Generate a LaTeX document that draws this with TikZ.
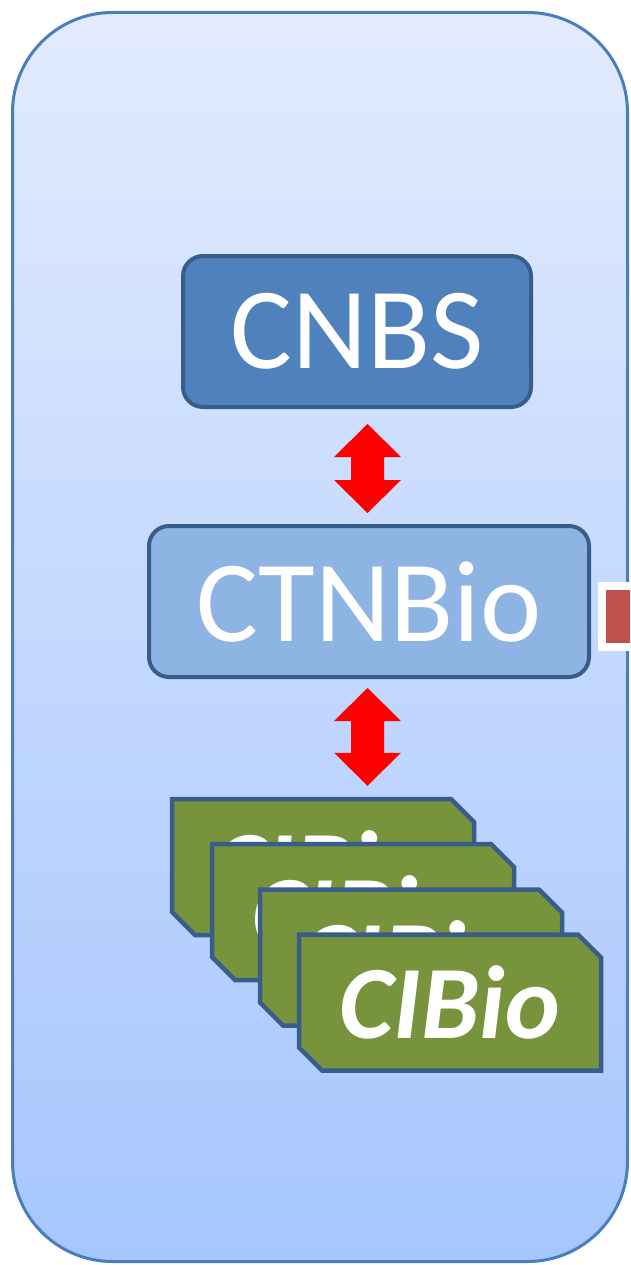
\documentclass[tikz,border=0pt]{standalone}
\usepackage{fontspec}
\setmainfont{Carlito}
\usetikzlibrary{calc,shapes.misc}
\definecolor{panelTop}{RGB}{226,235,254}
\definecolor{panelBottom}{RGB}{166,198,254}
\definecolor{panelLine}{RGB}{74,126,187}
\definecolor{boxLine}{RGB}{56,93,138}
\definecolor{cnbsFill}{RGB}{79,129,189}
\definecolor{ctnFill}{RGB}{142,180,227}
\definecolor{cardFill}{RGB}{119,147,60}
\definecolor{arrowRed}{RGB}{255,0,0}
\definecolor{markRed}{RGB}{192,80,77}
\def\dblarrow(#1)(#2){\fill[arrowRed] (#1) -- ++(33.5,33) -- ++(-17,0) -- ($(#2)+(16.5,-33)$) -- ++(17,0) -- (#2) -- ++(-33.5,-33) -- ++(17,0) -- ($(#1)+(-16.5,33)$) -- ++(-17,0) -- cycle;}
\tikzset{
	council/.style={draw=boxLine, line width=4pt, rounded corners=20pt, text=white, font=\fontsize{116}{120}\selectfont, inner sep=0pt},
	card/.style={chamfered rectangle, chamfered rectangle corners={north east,south west}, chamfered rectangle xsep=11.5pt, chamfered rectangle ysep=11.5pt, draw=boxLine, fill=cardFill, line width=4.5pt, minimum width=302pt, minimum height=136pt, inner sep=0pt, text=white, font=\fontsize{104}{110}\selectfont\bfseries\itshape}
}

\begin{document}
\begin{tikzpicture}[x=1pt, y=-1pt]
			%%%%% START %%%%%
			\useasboundingbox (0,0) rectangle (630,1265);
			\clip (0,0) rectangle (630,1265);

			\shade[top color=panelTop, bottom color=panelBottom, rounded corners=100pt] (12.5,12.5) rectangle (627.5,1261.5);
			\draw[line width=3pt, color=panelLine, rounded corners=100pt] (12.5,12.5) rectangle (627.5,1261.5);

			\node[council, fill=cnbsFill, minimum width=348pt, minimum height=151pt] (cnbs) at (357, 331.5) {CNBS};
			\node[council, fill=ctnFill, minimum width=440pt, minimum height=151pt] (ctnbio) at (369, 601.5) {CTNBio};

			\draw[fill=markRed, draw=white, line width=8pt] (601.5, 586) rectangle (650, 647);

			\node[card] (cibioA) at (323, 867) {CIBio};
			\node[card] (cibioB) at (363, 912) {CIBio};
			\node[card] (cibioC) at (411, 957.5) {CIBio};
			\node[card] (cibioD) at (450, 1002.5) {CIBio};

			\coordinate (upTop) at ($(cnbs.south -| 367.5,0)+(0,15)$);
			\coordinate (upBot) at ($(ctnbio.north -| 367.5,0)+(0,-11)$);
			\coordinate (lowTop) at ($(ctnbio.south -| 367.5,0)+(0,9)$);
			\coordinate (lowBot) at ($(cibioA.north -| 367.5,0)+(0,-11)$);
			\dblarrow(upTop)(upBot)
			\dblarrow(lowTop)(lowBot)
			%%%%% END %%%%%
\end{tikzpicture}
\end{document}
